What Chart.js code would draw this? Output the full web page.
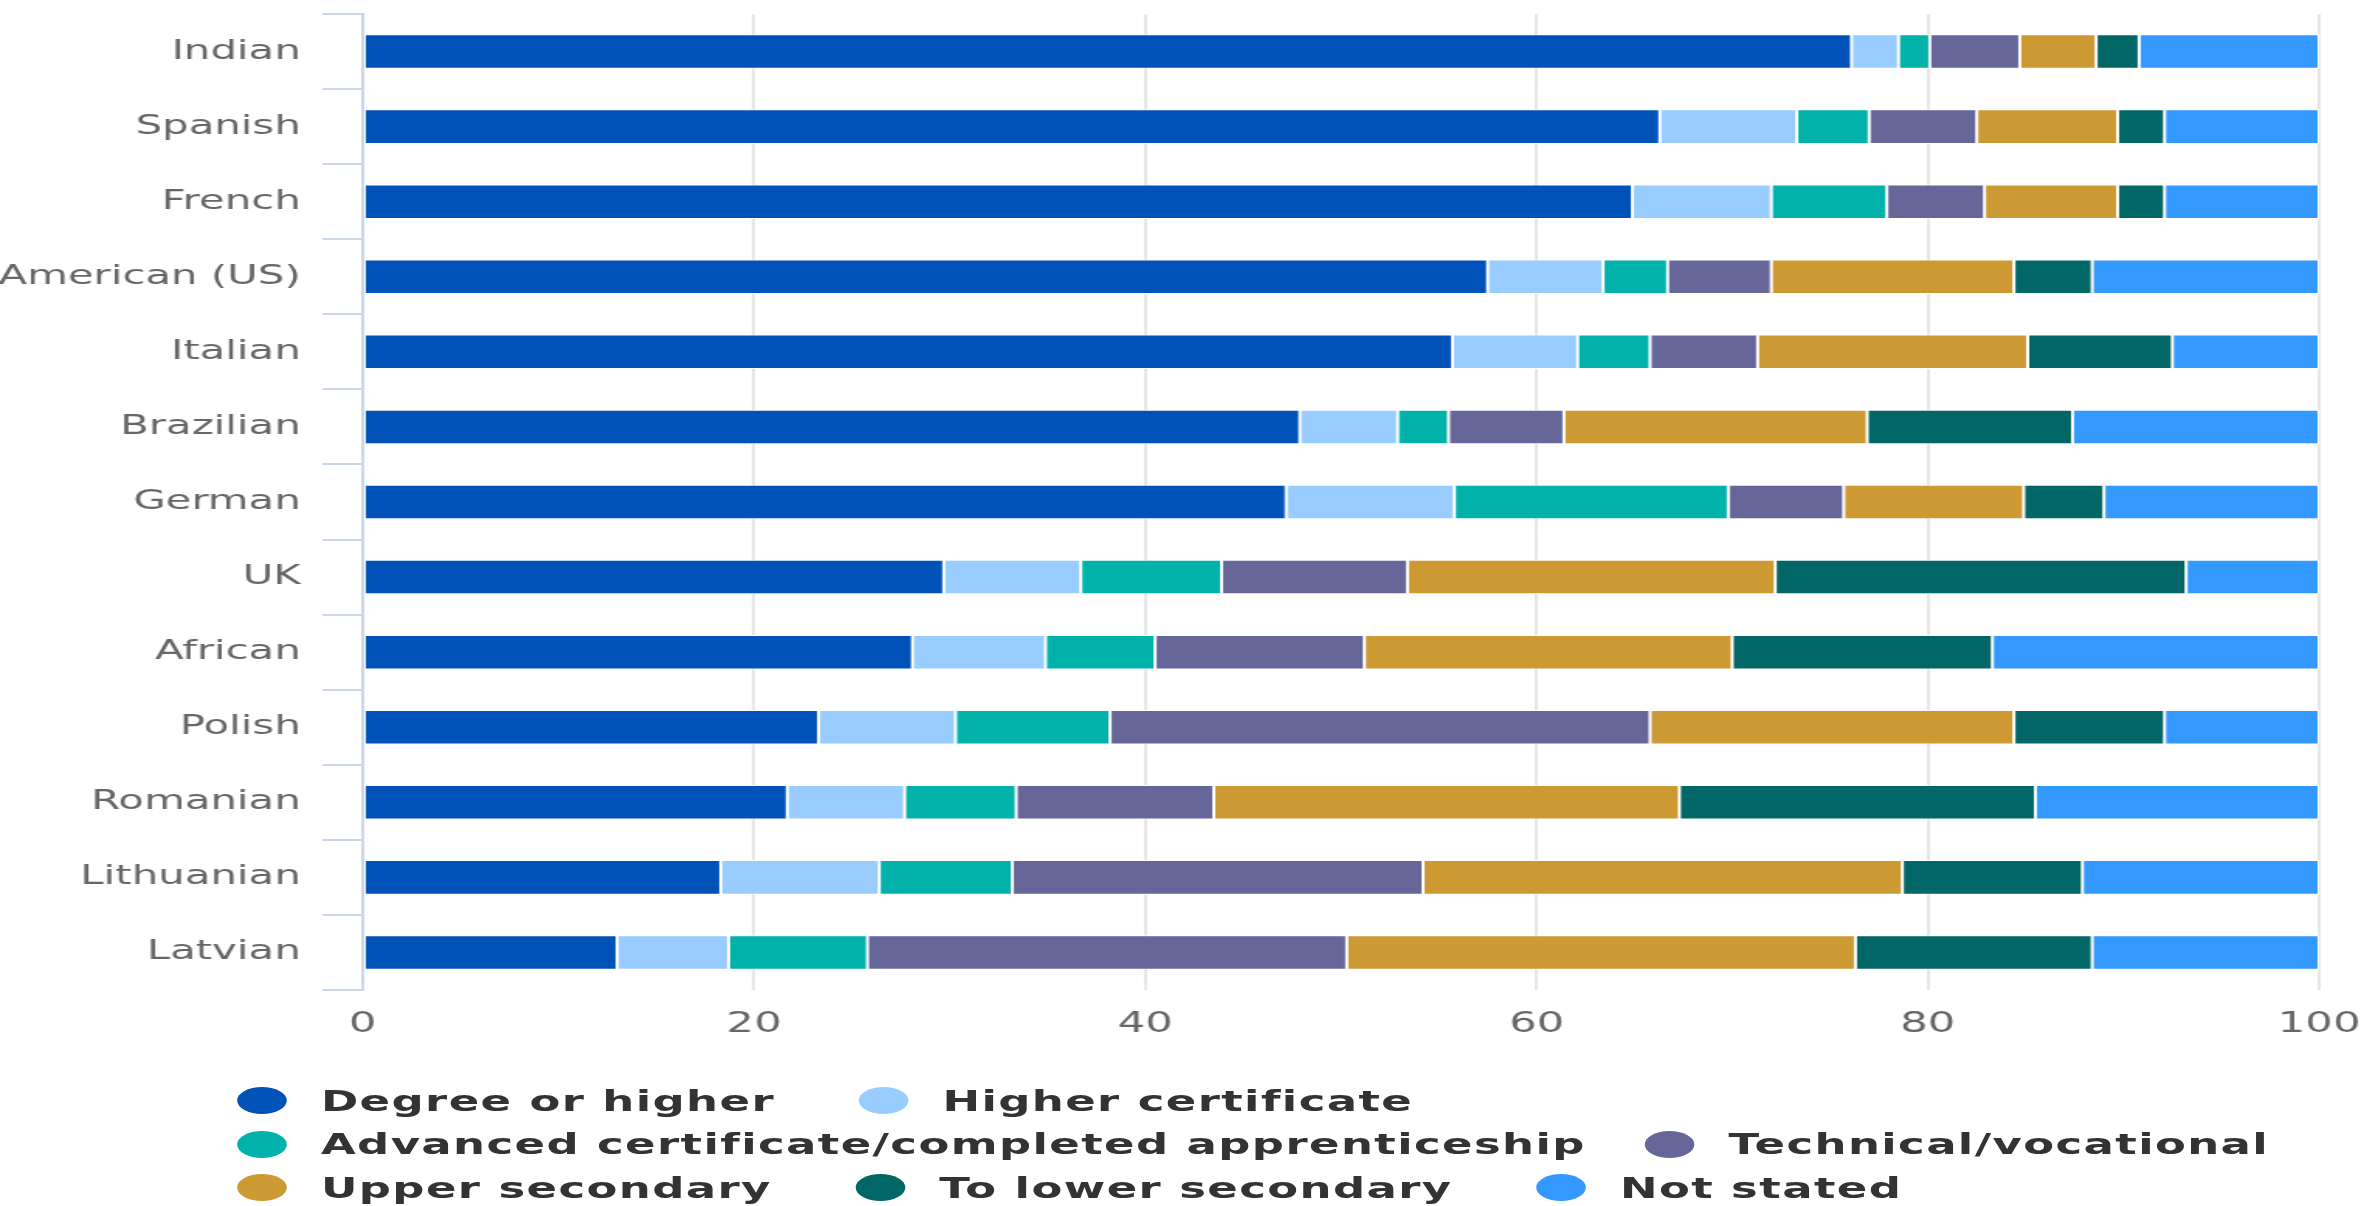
<!DOCTYPE html>
<html>
<head>
<meta charset="utf-8">
<script src="https://cdn.jsdelivr.net/npm/chart.js@4/dist/chart.umd.min.js"></script>
<style>
  body { margin: 0; background: #fff; overflow: hidden; }
  /* the reference is a horizontally stretched render, so stretch the whole stage */
  #stage { position: relative; width: 1525px; height: 1206px; transform: scaleX(1.5502); transform-origin: 0 0; }
  #chartBox { position: absolute; left: 0; top: 0; width: 1525px; height: 1060px; }
  #legend { position: absolute; left: 153px; top: 1079px; font: bold 29px "DejaVu Sans"; color: #333; letter-spacing: 0.9px; }
  .row { display: flex; height: 43.5px; align-items: center; }
  .item { display: flex; align-items: center; margin-right: 54px; white-space: nowrap; }
  .row.cols .item:first-child { min-width: 343px; }
  .row.wide .item:first-child { margin-right: 38px; }
  .dot { width: 32px; height: 27px; border-radius: 50%; margin-right: 22px; flex: none; }
</style>
</head>
<body>
<div id="stage">
  <div id="chartBox"><canvas id="chart"></canvas></div>
  <div id="legend"></div>
</div>
<script>
const groups = ["Indian", "Spanish", "French", "American (US)", "Italian", "Brazilian", "German",
  "UK", "African", "Polish", "Romanian", "Lithuanian", "Latvian"];

const seriesNames = ["Degree or higher", "Higher certificate", "Advanced certificate/completed apprenticeship",
  "Technical/vocational", "Upper secondary", "To lower secondary", "Not stated"];

const degree      = [76.1, 66.3, 64.9, 57.5, 55.7, 47.9, 47.2, 29.7, 28.1, 23.3, 21.7, 18.3, 13.0];
const higherCert  = [2.4, 7.0, 7.1, 5.9, 6.4, 5.0, 8.6, 7.0, 6.8, 7.0, 6.0, 8.1, 5.7];
const advanced    = [1.6, 3.7, 5.9, 3.3, 3.7, 2.6, 14.0, 7.2, 5.6, 7.9, 5.7, 6.8, 7.1];
const technical   = [4.6, 5.5, 5.0, 5.3, 5.5, 5.9, 5.9, 9.5, 10.7, 27.6, 10.1, 21.0, 24.5];
const upperSec    = [3.9, 7.2, 6.8, 12.4, 13.8, 15.5, 9.2, 18.8, 18.8, 18.6, 23.8, 24.5, 26.0];
const lowerSec    = [2.2, 2.4, 2.4, 4.0, 7.4, 10.5, 4.1, 21.0, 13.3, 7.7, 18.2, 9.2, 12.1];
const notStated   = [9.2, 7.9, 7.9, 11.6, 7.5, 12.6, 11.0, 6.8, 16.7, 7.9, 14.5, 12.1, 11.6];

const xTicks = [0, 20, 40, 60, 80, 100];

const colors = ["#0052b9", "#99ccff", "#00b2a9", "#666699", "#cc9933", "#006666", "#3399ff"];
const seriesValues = [degree, higherCert, advanced, technical, upperSec, lowerSec, notStated];

Chart.defaults.font.family = "DejaVu Sans";

new Chart(document.getElementById("chart"), {
  type: "bar",
  data: {
    labels: groups,
    datasets: seriesNames.map((name, i) => ({
      label: name,
      data: seriesValues[i],
      backgroundColor: colors[i],
      borderColor: "#ffffff",
      borderWidth: 1,
      borderSkipped: false,
      barPercentage: 0.46,
      categoryPercentage: 1
    }))
  },
  options: {
    indexAxis: "y",
    responsive: true,
    maintainAspectRatio: false,
    animation: false,
    layout: { padding: { top: 14, right: 29, left: 0, bottom: 0 } },
    plugins: { legend: { display: false }, tooltip: { enabled: false } },
    scales: {
      x: {
        stacked: true,
        min: 0,
        max: 100,
        afterBuildTicks: axis => { axis.ticks = xTicks.map(v => ({ value: v })); },
        afterFit: axis => {
          axis.height = 70;
          axis.paddingLeft = 0;
          axis.paddingRight = 0;
        },
        border: { display: false },
        grid: { color: "#e6e6e6", lineWidth: 2, drawTicks: false },
        ticks: { color: "#666666", font: { size: 28 }, padding: 18 }
      },
      y: {
        stacked: true,
        afterFit: axis => {
          axis.width = 234;
          axis.paddingTop = 0;
          axis.paddingBottom = 0;
        },
        border: { color: "#ccd6eb", width: 2 },
        grid: { drawOnChartArea: false, color: "#ccd6eb", lineWidth: 2, tickLength: 26 },
        ticks: { color: "#666666", font: { size: 27 }, padding: 14 }
      }
    }
  }
});

// html legend, laid out in the same three rows as the reference
const legendRows = [[0, 1], [2, 3], [4, 5, 6]];
const legend = document.getElementById("legend");
legendRows.forEach((row, r) => {
  const div = document.createElement("div");
  div.className = r === 1 ? "row wide" : "row cols";
  row.forEach(i => {
    const item = document.createElement("div");
    item.className = "item";
    const dot = document.createElement("span");
    dot.className = "dot";
    dot.style.background = colors[i];
    const txt = document.createElement("span");
    txt.textContent = seriesNames[i];
    item.appendChild(dot);
    item.appendChild(txt);
    div.appendChild(item);
  });
  legend.appendChild(div);
});
</script>
</body>
</html>
